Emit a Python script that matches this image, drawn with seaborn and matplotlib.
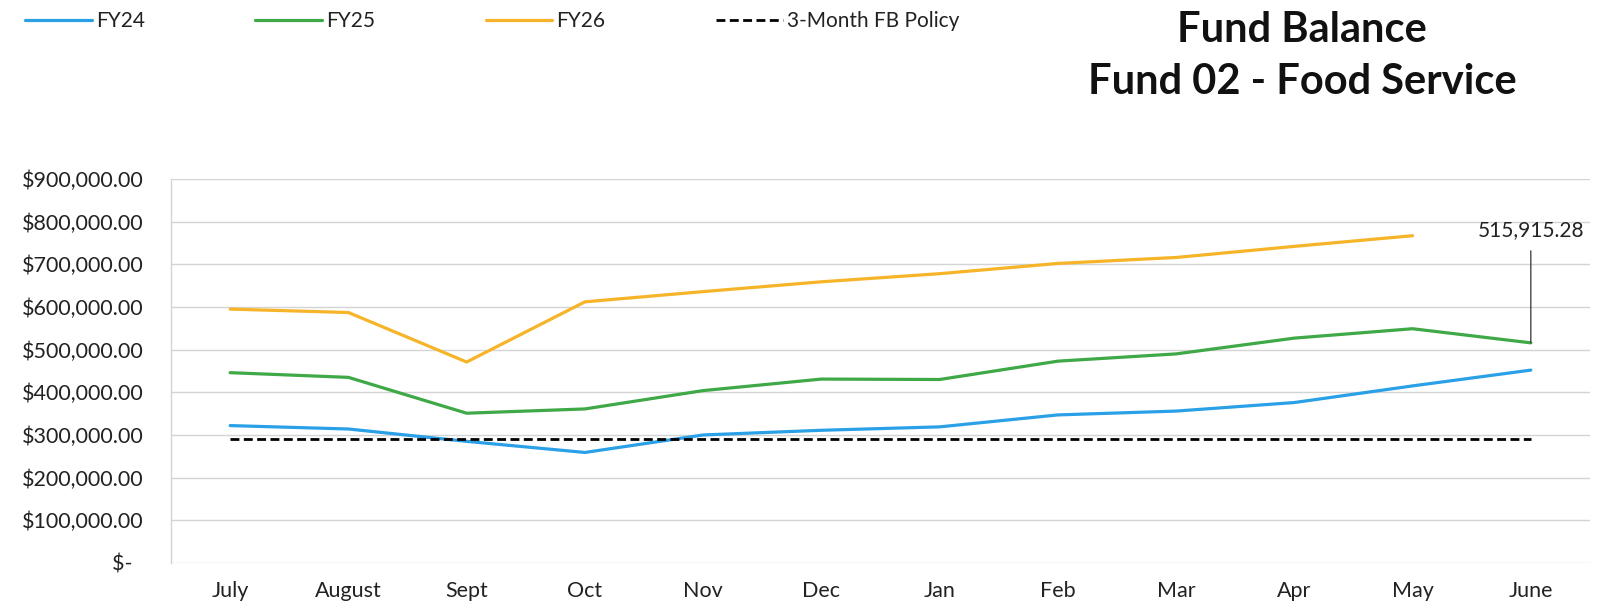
import numpy as np
import pandas as pd
import matplotlib
matplotlib.use('Agg')
import matplotlib.pyplot as plt
import seaborn as sns
from matplotlib.ticker import FuncFormatter

# ------------------------------------------------------------
# 数据（从图上读取，单位：美元）
# ------------------------------------------------------------
months = ['July', 'August', 'Sept', 'Oct', 'Nov', 'Dec',
          'Jan', 'Feb', 'Mar', 'Apr', 'May', 'June']
fy24 = [322000, 314000, 285000, 259000, 300000, 311000,
        319000, 347000, 356000, 376000, 415000, 452000]
fy25 = [446000, 435000, 351000, 361000, 404000, 431000,
        430000, 473000, 490000, 527000, 549000, 515915.28]
fy26 = [595000, 587000, 471000, 612000, 636000, 659000,
        678000, 702000, 716000, 742000, 767000]
policy = [291000] * 12
june_label = '515,915.28'

sns.set_theme(style='white')
plt.rcParams['font.family'] = ['Lato', 'DejaVu Sans']

fig = plt.figure(figsize=(16.06, 6.11), dpi=100)
ax = fig.add_axes([0.1065, 0.0786, 0.8835, 0.6285])

x_all = np.arange(len(months))
sns.lineplot(x=x_all, y=fy24, ax=ax, color='#2AA0E6', linewidth=2.3, label='FY24')
sns.lineplot(x=x_all, y=fy25, ax=ax, color='#3FA847', linewidth=2.3, label='FY25')
sns.lineplot(x=x_all[:len(fy26)], y=fy26, ax=ax, color='#F6B428', linewidth=2.3, label='FY26')
sns.lineplot(x=x_all, y=policy, ax=ax, color='black', linewidth=2.0,
             linestyle=(0, (3.2, 1.6)), label='3-Month FB Policy')

# 六月 FY25 数据标签
ax.annotate(june_label, xy=(11, fy25[-1]), xytext=(11, 779000),
            ha='center', va='center', fontsize=15, color='#222222',
            arrowprops=dict(arrowstyle='-', color='#333333', lw=0.9,
                            shrinkA=5, shrinkB=0))

ax.set_xlim(-0.5, 11.5)
ax.set_ylim(0, 900000)
ax.set_yticks(np.arange(0, 900001, 100000))
ax.yaxis.set_major_formatter(FuncFormatter(
    lambda v, p: '$-  ' if v == 0 else f'${v:,.2f}'))
ax.set_xticks(x_all)
ax.set_xticklabels(months)
ax.tick_params(axis='y', labelsize=15.5, pad=20, length=0, colors='#222222')
ax.tick_params(axis='x', labelsize=15.5, pad=13, length=0, colors='#222222')
ax.set_xlabel('')
ax.set_ylabel('')

ax.grid(axis='y', color='#d4d4d4', linewidth=1.0)
ax.set_axisbelow(True)
for side in ['top', 'right', 'bottom']:
    ax.spines[side].set_visible(False)
ax.spines['left'].set_color('#d4d4d4')
ax.spines['left'].set_linewidth(1.0)

# 图例放在顶部
handles, labels = ax.get_legend_handles_labels()
ax.legend_.remove()
fig.legend(handles, labels, loc='upper left', bbox_to_anchor=(0.004, 1.012),
           ncol=4, frameon=False, fontsize=15, handlelength=3.2,
           handletextpad=0.2, columnspacing=5.3, labelcolor='#222222')

# 标题
fig.text(0.8107, 0.951, 'Fund Balance', ha='center', va='center',
         fontsize=30, fontweight='bold', color='#111111')
fig.text(0.8107, 0.866, 'Fund 02 - Food Service', ha='center', va='center',
         fontsize=30, fontweight='bold', color='#111111')

plt.savefig('out.png', dpi=100)
plt.close()
